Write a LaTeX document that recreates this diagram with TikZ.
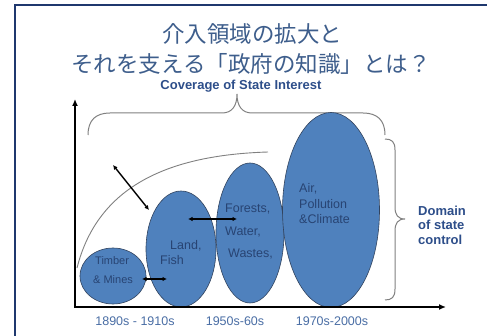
\documentclass[tikz,border=0pt]{standalone}
\usepackage{fontspec}
\setmainfont{Liberation Sans}
\newfontfamily\cjk{Noto Sans CJK JP}
\usetikzlibrary{shapes.geometric,arrows.meta}
\definecolor{navy}{RGB}{31,56,110}
\definecolor{titlecol}{RGB}{62,94,140}
\definecolor{labcol}{RGB}{74,110,165}
\definecolor{boldcol}{RGB}{45,78,138}
\definecolor{ellfill}{RGB}{79,129,189}
\definecolor{ellline}{RGB}{50,68,95}
\definecolor{elltext}{RGB}{40,68,115}
\definecolor{bracecol}{RGB}{128,128,128}
\tikzset{
  ell/.style={ellipse, draw=ellline, fill=ellfill, line width=0.6pt, inner sep=0pt},
  etext/.style={text=elltext, anchor=west, inner sep=0pt, font=\fontsize{12.5}{14}\selectfont},
  etextsm/.style={text=elltext, anchor=west, inner sep=0pt, font=\fontsize{11}{13}\selectfont},
  axlab/.style={text=labcol, inner sep=0pt, font=\fontsize{12.5}{14}\selectfont},
  boldlab/.style={text=boldcol, inner sep=0pt, font=\bfseries\fontsize{13}{14.5}\selectfont},
  dbl/.style={{Latex[length=4.5pt,width=4.5pt]}-{Latex[length=4.5pt,width=4.5pt]}, line width=1.4pt, black},
  axis/.style={-{Latex[length=7pt,width=6pt]}, line width=2pt, black},
  brace/.style={draw=bracecol, line width=1pt},
}
\begin{document}
\begin{tikzpicture}[x=1pt,y=-1pt]
\useasboundingbox (0,0) rectangle (487,336);
\fill[white] (0,0) rectangle (487,336);
% frame
\coordinate (fbl) at (15,345);
\coordinate (ftl) at (15,5);
\coordinate (ftr) at (495,5);
\draw[navy, line width=2.5pt] (fbl) -- (ftl) -- (ftr);
% title
\node[text=titlecol, font=\cjk\fontsize{22.5}{26}\selectfont, inner sep=0pt] (t1) at (252,34) {介入領域の拡大と};
\node[text=titlecol, font=\cjk\fontsize{22.5}{26}\selectfont, inner sep=0pt] (t2) at (251,64) {それを支える「政府の知識」とは？};
\node[boldlab] (cov) at (241,86) {Coverage of State Interest};
% top brace
\coordinate (bl) at (88,135);
\coordinate (br) at (385,135);
\draw[brace] (bl) .. controls (88,120) and (96,113) .. (110,113) -- (222,113)
  .. controls (232,113) and (237,106) .. (237,94)
  .. controls (237,106) and (242,113) .. (252,113) -- (363,113)
  .. controls (377,113) and (385,120) .. (br);
% right brace
\coordinate (rt) at (385,139);
\coordinate (rb) at (385,300);
\draw[brace] (rt) .. controls (392,139) and (395,142) .. (395,150) -- (395,207)
  .. controls (395,215) and (398,219) .. (405,219)
  .. controls (398,219) and (395,223) .. (395,231) -- (395,289)
  .. controls (395,297) and (392,300) .. (rb);
\node[boldlab, align=left, anchor=west] (dom) at (418,225) {Domain\\of state\\control};
% curve
\coordinate (c0) at (77,268);
\coordinate (c1) at (268,152);
\draw[bracecol, line width=0.9pt] (c0) .. controls (98,185) and (170,155) .. (c1);
% ellipses
\node[ell, minimum width=66pt, minimum height=56pt] (e1) at (113,276) {};
\node[ell, minimum width=70pt, minimum height=116pt] (e2) at (181,249) {};
\node[ell, minimum width=68pt, minimum height=140pt] (e3) at (250,233) {};
\node[ell, minimum width=97pt, minimum height=195pt] (e4) at (331,210) {};
% axes
\coordinate (O) at (75,308);
\coordinate (ytop) at (75,99);
\coordinate (xend) at (446,307);
\draw[axis] (O) -- (ytop);
\draw[axis] (74,307) -- (xend);
% ellipse texts
\node[etextsm] (tb) at (95,261) {Timber};
\node[etextsm] (tm) at (93,280) {\& Mines};
\node[etext] (ld) at (170,246) {Land,};
\node[etext] (fs) at (160,260) {Fish};
\node[etext] (fo) at (225,209) {Forests,};
\node[etext] (wa) at (225,232) {Water,};
\node[etext] (ws) at (228,254) {Wastes,};
\node[etext] (ai) at (299,189) {Air,};
\node[etext] (po) at (299,204) {Pollution};
\node[etext] (cl) at (299,219) {\&Climate};
% double arrows
\coordinate (a1s) at (113,165);
\coordinate (a1e) at (149,210);
\draw[dbl] (a1s) -- (a1e);
\coordinate (a2s) at (188,219);
\coordinate (a2e) at (237,219);
\draw[dbl] (a2s) -- (a2e);
\coordinate (a3s) at (142,279);
\coordinate (a3e) at (167,279);
\draw[dbl] (a3s) -- (a3e);
% axis labels
\node[axlab] (l1) at (135,321) {1890s - 1910s};
\node[axlab] (l2) at (235,321) {1950s-60s};
\node[axlab] (l3) at (332,321) {1970s-2000s};
\end{tikzpicture}
\end{document}
